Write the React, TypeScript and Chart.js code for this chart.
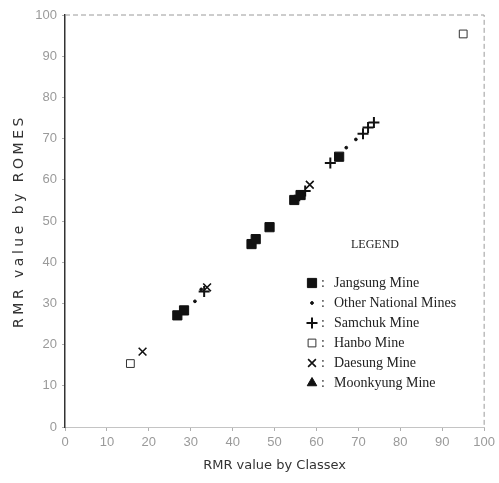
import React, { useEffect, useRef } from "react";
import { Chart, registerables } from "chart.js";
import { drawPoint } from "chart.js/helpers";

Chart.register(...registerables);

// ---- data ----
const xTickValues = [0, 10, 20, 30, 40, 50, 60, 70, 80, 90, 100];
const yTickValues = [0, 10, 20, 30, 40, 50, 60, 70, 80, 90, 100];

const jangsungX = [26.8, 28.4, 44.5, 45.5, 48.8, 54.7, 56.2, 65.4];
const jangsungY = [27.1, 28.3, 44.4, 45.6, 48.5, 55.1, 56.3, 65.6];

const otherX = [31.0, 32.5, 67.1, 69.4];
const otherY = [30.5, 33.4, 67.8, 69.8];

const samchukX = [33.2, 55.9, 57.3, 63.3, 71.1, 72.3, 73.7];
const samchukY = [32.9, 56.1, 57.3, 64.1, 71.2, 72.7, 73.9];

const hanboX = [15.6, 95.0];
const hanboY = [15.4, 95.4];

const daesungX = [18.5, 33.9, 58.4];
const daesungY = [18.3, 33.9, 58.8];

const moonkyungX: number[] = [];
const moonkyungY: number[] = [];

const legendTitle = "LEGEND";
const xTitle = "RMR value by Classex";
const yTitle = "RMR value by ROMES";

const toPoints = (xs: number[], ys: number[]) => xs.map((x, i) => ({ x, y: ys[i] }));

const series = [
  { label: "Jangsung Mine", xs: jangsungX, ys: jangsungY, style: "rect", radius: 6.5, fill: "#111", border: "#111", bw: 1 },
  { label: "Other National Mines", xs: otherX, ys: otherY, style: "circle", radius: 1.4, fill: "#111", border: "#111", bw: 1 },
  { label: "Samchuk Mine", xs: samchukX, ys: samchukY, style: "cross", radius: 5.5, fill: "#111", border: "#111", bw: 2 },
  { label: "Hanbo Mine", xs: hanboX, ys: hanboY, style: "rect", radius: 5.5, fill: "#fff", border: "#333", bw: 1 },
  { label: "Daesung Mine", xs: daesungX, ys: daesungY, style: "crossRot", radius: 5.5, fill: "#111", border: "#111", bw: 1.6 },
  { label: "Moonkyung Mine", xs: moonkyungX, ys: moonkyungY, style: "triangle", radius: 5.5, fill: "#111", border: "#111", bw: 1 },
];

const framePlugin = {
  id: "frame",
  beforeDatasetsDraw(chart: any) {
    const { ctx, chartArea } = chart;
    ctx.save();
    ctx.strokeStyle = "#9a9a9a";
    ctx.lineWidth = 1;
    ctx.setLineDash([5, 3]);
    ctx.beginPath();
    ctx.moveTo(chartArea.left, chartArea.top);
    ctx.lineTo(chartArea.right, chartArea.top);
    ctx.lineTo(chartArea.right, chartArea.bottom);
    ctx.stroke();
    ctx.restore();
  },
};

const legendPlugin = {
  id: "insideLegend",
  afterDatasetsDraw(chart: any) {
    const { ctx, chartArea } = chart;
    const markerX = chartArea.left + 247;
    const colonX = chartArea.left + 256;
    const textX = chartArea.left + 269;
    const titleX = chartArea.left + 310;
    const titleY = chartArea.top + 230;
    const rowY0 = chartArea.top + 268;
    const rowGap = 20;
    ctx.save();
    ctx.fillStyle = "#222";
    ctx.textBaseline = "middle";
    ctx.textAlign = "center";
    ctx.font = "12px 'Liberation Serif', serif";
    ctx.fillText(legendTitle, titleX, titleY);
    ctx.textAlign = "left";
    ctx.font = "14px 'Liberation Serif', serif";
    chart.data.datasets.forEach((ds: any, i: number) => {
      const y = rowY0 + i * rowGap;
      ctx.save();
      ctx.fillStyle = ds.backgroundColor;
      ctx.strokeStyle = ds.borderColor;
      ctx.lineWidth = ds.borderWidth;
      drawPoint(ctx, { pointStyle: ds.pointStyle, radius: Math.max(ds.pointRadius, 1.4), rotation: 0, borderWidth: ds.borderWidth }, markerX, y);
      ctx.restore();
      ctx.fillStyle = "#333";
      ctx.fillText(":", colonX, y);
      ctx.fillStyle = "#222";
      ctx.fillText(ds.label, textX, y);
    });
    ctx.restore();
  },
};

export default function App() {
  const ref = useRef<HTMLCanvasElement | null>(null);

  useEffect(() => {
    document.body.style.margin = "0";
    document.body.style.background = "#fff";
    if (!ref.current) return;
    const chart = new Chart(ref.current, {
      type: "scatter",
      data: {
        datasets: series.map((s) => ({
          label: s.label,
          data: toPoints(s.xs, s.ys),
          pointStyle: s.style as any,
          pointRadius: s.radius,
          pointHoverRadius: s.radius,
          backgroundColor: s.fill,
          borderColor: s.border,
          borderWidth: s.bw,
        })),
      },
      options: {
        responsive: false,
        animation: false,
        events: [],
        layout: { padding: { left: 0, right: 11, top: 15, bottom: 0 } },
        plugins: {
          legend: { display: false },
          tooltip: { enabled: false },
        },
        scales: {
          x: {
            type: "linear",
            min: 0,
            max: 100,
            afterFit: (scale: any) => {
              scale.height = 56;
            },
            afterBuildTicks: (scale: any) => {
              scale.ticks = xTickValues.map((v) => ({ value: v }));
            },
            border: { display: true, color: "#c4c4c4", width: 1, dash: [2, 3] },
            grid: { drawOnChartArea: false, drawTicks: true, tickLength: 4, color: "#b0b0b0" },
            ticks: {
              color: "#9a9a9a",
              padding: 4,
              font: { family: "'Liberation Sans', sans-serif", size: 13 },
            },
            title: {
              display: true,
              text: xTitle,
              color: "#333",
              font: { family: "'DejaVu Sans', sans-serif", size: 13 },
              padding: { top: 0, bottom: 10 },
            },
          },
          y: {
            type: "linear",
            min: 0,
            max: 100,
            afterFit: (scale: any) => {
              scale.width = 65;
              if (!scale.__spaced) {
                const orig = scale.drawTitle.bind(scale);
                scale.drawTitle = () => {
                  const c = scale.ctx;
                  c.save();
                  (c as any).letterSpacing = "3.5px";
                  orig();
                  c.restore();
                };
                scale.__spaced = true;
              }
            },
            afterBuildTicks: (scale: any) => {
              scale.ticks = yTickValues.map((v) => ({ value: v }));
            },
            border: { display: true, color: "#333", width: 1.5 },
            grid: { drawOnChartArea: false, drawTicks: true, tickLength: 3, color: "#b0b0b0" },
            ticks: {
              color: "#9a9a9a",
              padding: 5,
              font: { family: "'Liberation Sans', sans-serif", size: 13 },
            },
            title: {
              display: true,
              text: yTitle,
              color: "#333",
              font: { family: "'DejaVu Sans', sans-serif", size: 14 },
              padding: { top: 11, bottom: 0 },
            },
          },
        },
      },
      plugins: [framePlugin, legendPlugin],
    });
    return () => chart.destroy();
  }, []);

  return (
    <div style={{ width: 499, height: 483, background: "#fff" }}>
      <canvas ref={ref} width={499} height={483} />
    </div>
  );
}
